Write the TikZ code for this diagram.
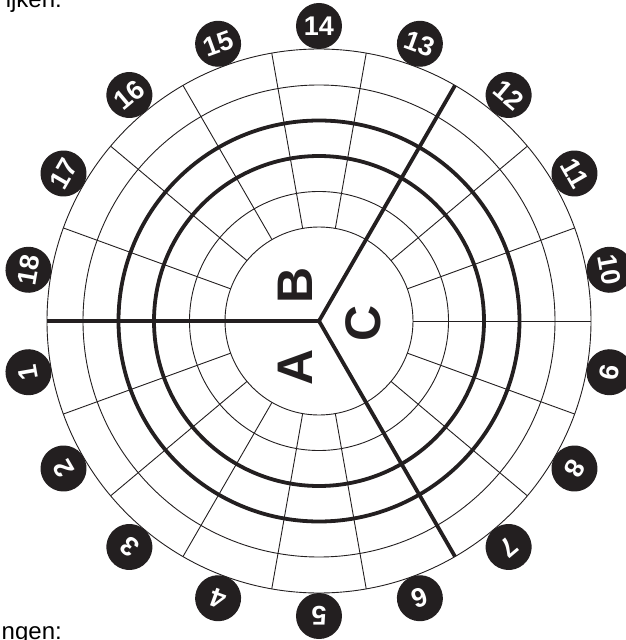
\documentclass[tikz,border=0pt]{standalone}
\usepackage{fontspec}
\setmainfont{Liberation Sans}
\definecolor{ink}{HTML}{231F20}
\begin{document}
\begin{tikzpicture}[x=1pt,y=1pt,
  gridline/.style={draw=ink, line width=0.9pt},
  boldline/.style={draw=ink, line width=3.8pt},
  numdisk/.style={circle, fill=ink, minimum size=46pt, inner sep=0pt, text=white,
    font=\bfseries\fontsize{27}{27}\selectfont},
  sectorlabel/.style={font=\bfseries\fontsize{50}{50}\selectfont, text=ink, rotate=90, inner sep=0pt},
  pagetext/.style={font=\fontsize{24}{24}\selectfont, text=black, inner sep=0pt}]
\useasboundingbox (-319,-319) rectangle (307,321);
\coordinate (O) at (0,0);
% thin radial lines
\foreach \a in {0,20,40,80,100,120,140,160,200,220,240,260,280,320,340}
  \draw[gridline] (\a:94) -- (\a:272);
% circles
\foreach \r in {94,129.5,236,272} \draw[gridline] (O) circle (\r);
\foreach \r in {165,200.5} \draw[boldline] (O) circle (\r);
% thick dividers
\foreach \a [count=\i] in {60,180,300} {
  \coordinate (d\i) at (\a:272);
  \draw[boldline] (O) -- (d\i);
}
% sector letters
\node[sectorlabel] (secB) at (-24,36) {B};
\node[sectorlabel] (secA) at (-24,-46) {A};
\node[sectorlabel] (secC) at (44,-2) {C};
% numbered disks
\foreach \k in {1,...,18} {
  \pgfmathsetmacro\ang{20*\k-190}
  \node[numdisk, rotate=\ang-90] (n\k) at (\ang:295) {\k};
}
% cut-off page text
\node[pagetext, anchor=base east] (toptext) at (-257,313) {ijken:};
\node[pagetext, anchor=base east] (bottext) at (-257,-318) {ngen:};
\end{tikzpicture}
\end{document}
